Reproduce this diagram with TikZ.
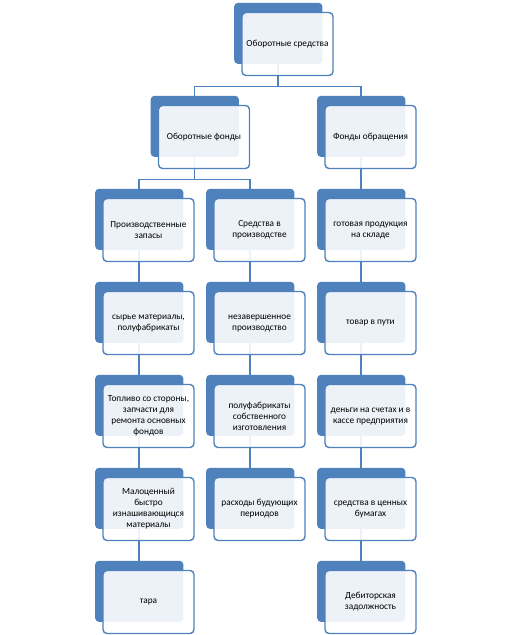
\documentclass[tikz,border=0pt]{standalone}
\usepackage{fontspec}
\setmainfont{Carlito}
\usetikzlibrary{shadows,backgrounds}
\definecolor{boxblue}{HTML}{4F81BD}

\begin{document}
\begin{tikzpicture}[x=1pt,y=-1pt]
    \tikzset{
        item/.style={draw=boxblue, line width=1.4pt, rounded corners=4pt,
            fill=white, fill opacity=0.9, text opacity=1,
            minimum width=91pt, minimum height=63pt, inner sep=2pt,
            align=center, font=\fontsize{9.3}{11}\selectfont,
            general shadow={fill=boxblue, fill opacity=1, draw=none,
                shadow xshift=-9.5pt, shadow yshift=11pt, shadow scale=0.97}},
        link/.style={draw=boxblue, line width=1.4pt}
    }
    \useasboundingbox (0,0) rectangle (510,635);

    \draw node[item] (sredstva) at (287.5,44) {Оборотные средства};

    \draw node[item] (fondy) at (204,137) {Оборотные фонды};
    \draw node[item] (obrashch) at (370.5,137) {Фонды обращения};

    \draw node[item] (zapasy) at (148.5,230) {Производственные\\запасы};
    \draw node[item] (proizv) at (259.5,230) {Средства в\\производстве};
    \draw node[item] (gotov) at (370.5,230) {готовая продукция\\на складе};

    \draw node[item] (syrye) at (148.5,323) {сырье материалы,\\полуфабрикаты};
    \draw node[item] (nezav) at (259.5,323) {незавершенное\\производство};
    \draw node[item] (tovar) at (370.5,323) {товар в пути};

    \draw node[item] (toplivo) at (148.5,416) {Топливо со стороны,\\запчасти для\\ремонта основных\\фондов};
    \draw node[item] (polufab) at (259.5,416) {полуфабрикаты\\собственного\\изготовления};
    \draw node[item] (dengi) at (370.5,416) {деньги на счетах и в\\кассе предприятия};

    \draw node[item] (maloc) at (148.5,509) {Малоценный\\быстро\\изнашивающицся\\материалы};
    \draw node[item] (rashod) at (259.5,509) {расходы будующих\\периодов};
    \draw node[item] (bumagi) at (370.5,509) {средства в ценных\\бумагах};

    \draw node[item] (tara) at (148.5,602) {тара};
    \draw node[item] (debit) at (370.5,602) {Дебиторская\\задолжность};

    \begin{scope}[on background layer]
        \foreach \x/\y in {%
            sredstva/fondy, sredstva/obrashch,
            fondy/zapasy, fondy/proizv, obrashch/gotov,
            zapasy/syrye, syrye/toplivo, toplivo/maloc, maloc/tara,
            proizv/nezav, nezav/polufab, polufab/rashod,
            gotov/tovar, tovar/dengi, dengi/bumagi, bumagi/debit%
        }{
            \draw[link] ([xshift=-9.5pt]\x.center) |- ([xshift=-9.5pt,yshift=-10pt]\x.south)
                -| ([xshift=-9.5pt]\y.center);
        }
    \end{scope}
\end{tikzpicture}
\end{document}
